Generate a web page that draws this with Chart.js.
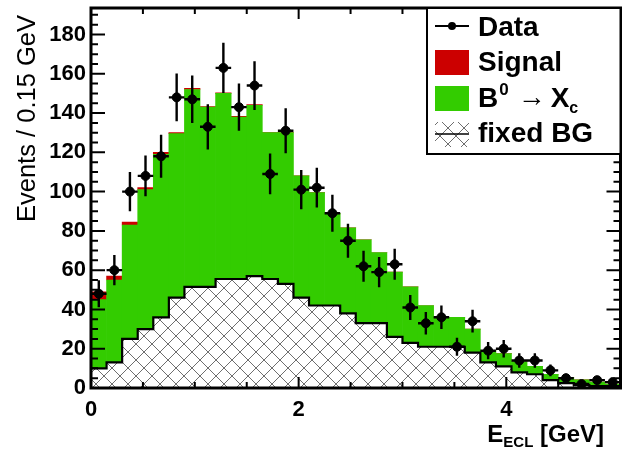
<!DOCTYPE html>
<html>
<head>
<meta charset="UTF-8">
<title>E_ECL</title>
<script src="https://cdn.jsdelivr.net/npm/chart.js"></script>
<style>
    html, body { margin: 0; padding: 0; background: #fff; }
    canvas { display: block; }
</style>
</head>
<body>
<canvas id="grafico" width="626" height="449"></canvas>
<script>
    // bins of 0.15 GeV, centres
    var binCenters = [0.075, 0.225, 0.375, 0.525, 0.675, 0.825, 0.975, 1.125, 1.275, 1.425, 1.575, 1.725,
        1.875, 2.025, 2.175, 2.325, 2.475, 2.625, 2.775, 2.925, 3.075, 3.225, 3.375, 3.525,
        3.675, 3.825, 3.975, 4.125, 4.275, 4.425, 4.575, 4.725, 4.875, 5.025];

    var fixedBG = [10, 13, 25, 30, 36, 46, 51.5, 51.5, 55.5, 55.5, 57, 55.5, 53, 46, 42, 42, 38, 33, 33, 26,
        23, 21, 21, 21, 18, 13, 11, 8, 7, 4, 2.5, 1.5, 1, 1];
    var xcBG = [35, 42, 58, 71, 83, 83.5, 100.5, 91.5, 94.5, 82.5, 87, 74.5, 77, 62, 57.5, 47, 43.5, 42.5, 36, 33,
        28.5, 21, 15, 15, 12, 6, 6.5, 5.5, 4, 3, 2.8, 2.7, 2, 1];
    var signal = [4, 2, 1.5, 1, 1, 0.6, 0.6, 0.3, 0.3, 0.3, 0.3, 0, 0, 0, 0, 0, 0, 0, 0, 0,
        0, 0, 0, 0, 0, 0, 0, 0, 0, 0, 0, 0, 0, 0];

    var dataY = [48, 60, 100, 108, 118, 148, 147, 133, 163, 143, 154, 109, 131, 101, 102, 89, 75, 62, 59, 63,
        41, 33, 36, 21, 34, 19, 20, 14, 14, 9, 5, 2, 4, 3];
    var dataErr = [6.9, 7.7, 10, 10.4, 10.9, 12.2, 12.1, 11.5, 12.8, 12, 12.4, 10.4, 11.4, 10, 10.1, 9.4, 8.7, 7.9, 7.7, 7.9,
        6.4, 5.7, 6, 4.6, 5.8, 4.4, 4.5, 3.7, 3.7, 3, 2.2, 1.4, 2, 1.7];

    var yTicks = [0, 20, 40, 60, 80, 100, 120, 140, 160, 180];
    var xTicks = [0, 2, 4];
    var halfBin = 0.075;

    var fonte = '"Liberation Sans", Arial, Helvetica, sans-serif';
    var verde = '#33cc00';
    var vermelho = '#cc0000';

    // cross hatch for the fixed background
    var tile = document.createElement('canvas');
    tile.width = 16;
    tile.height = 16;
    var tg = tile.getContext('2d');
    tg.strokeStyle = '#6e6e6e';
    tg.lineWidth = 1;
    tg.beginPath();
    tg.moveTo(-2, -2); tg.lineTo(18, 18);
    tg.moveTo(-2, 18); tg.lineTo(18, -2);
    tg.stroke();
    var hatch = tg.createPattern(tile, 'repeat');

    var histPlugin = {
        id: 'histo',
        beforeDatasetDraw: function (chart, args) {
            if (args.index !== 3) return;
            var ctx = chart.ctx;
            var barras = chart.getDatasetMeta(0).data;
            // outline of fixed BG
            ctx.save();
            ctx.strokeStyle = '#000';
            ctx.lineWidth = 2.2;
            ctx.lineJoin = 'miter';
            ctx.beginPath();
            barras.forEach(function (b, i) {
                var p = b.getProps(['x', 'y', 'width'], true);
                var l = p.x - p.width / 2, r = p.x + p.width / 2;
                if (i === 0) ctx.moveTo(l, p.y); else ctx.lineTo(l, p.y);
                ctx.lineTo(r, p.y);
            });
            ctx.stroke();

            // error bars
            var xs = chart.scales.x, ys = chart.scales.yd;
            ctx.lineWidth = 2.4;
            ctx.beginPath();
            for (var i = 0; i < dataY.length; i++) {
                var cx = xs.getPixelForValue(binCenters[i]);
                var cy = ys.getPixelForValue(dataY[i]);
                ctx.moveTo(cx, ys.getPixelForValue(dataY[i] - dataErr[i]));
                ctx.lineTo(cx, ys.getPixelForValue(dataY[i] + dataErr[i]));
                ctx.moveTo(xs.getPixelForValue(binCenters[i] - halfBin), cy);
                ctx.lineTo(xs.getPixelForValue(binCenters[i] + halfBin), cy);
            }
            ctx.stroke();
            ctx.restore();
        },
        afterDraw: function (chart) {
            var ctx = chart.ctx;
            var a = chart.chartArea;
            var xs = chart.scales.x, ys = chart.scales.y;
            ctx.save();
            ctx.strokeStyle = '#000';
            ctx.fillStyle = '#000';

            // ticks
            ctx.lineWidth = 2;
            ctx.beginPath();
            for (var v = 0; v <= 190; v += 5) {
                var py = ys.getPixelForValue(v);
                var len = (v % 20 === 0) ? 14 : 7;
                ctx.moveTo(a.left, py); ctx.lineTo(a.left + len, py);
                ctx.moveTo(a.right, py); ctx.lineTo(a.right - len, py);
            }
            for (var k = 0; k <= 10; k++) {
                var xv = k * 0.5;
                var px = xs.getPixelForValue(xv);
                var l2 = (k % 4 === 0) ? 11 : 6;
                ctx.moveTo(px, a.bottom); ctx.lineTo(px, a.bottom - l2);
                ctx.moveTo(px, a.top); ctx.lineTo(px, a.top + l2);
            }
            ctx.stroke();

            // frame
            ctx.lineWidth = 3;
            ctx.strokeRect(a.left, a.top, a.right - a.left, a.bottom - a.top);

            // tick labels
            ctx.font = 'bold 22px ' + fonte;
            ctx.textAlign = 'right';
            ctx.textBaseline = 'middle';
            yTicks.forEach(function (t) {
                ctx.fillText(String(t), 86, ys.getPixelForValue(t));
            });
            ctx.textAlign = 'center';
            ctx.textBaseline = 'alphabetic';
            xTicks.forEach(function (t) {
                ctx.fillText(String(t), xs.getPixelForValue(t), 416);
            });

            // y title
            ctx.save();
            ctx.translate(35, 222);
            ctx.rotate(-Math.PI / 2);
            ctx.textAlign = 'left';
            ctx.font = '25.5px ' + fonte;
            ctx.fillText('Events / 0.15 GeV', 0, 0);
            ctx.restore();

            // x title E_ECL [GeV]
            ctx.textAlign = 'left';
            var big = 'bold 24px ' + fonte, small = 'bold 15px ' + fonte;
            ctx.font = big; var w1 = ctx.measureText('E').width;
            var w3 = ctx.measureText(' [GeV]').width;
            ctx.font = small; var w2 = ctx.measureText('ECL').width;
            var x0 = 604 - (w1 + w2 + w3);
            ctx.font = big; ctx.fillText('E', x0, 442);
            ctx.font = small; ctx.fillText('ECL', x0 + w1, 447);
            ctx.font = big; ctx.fillText(' [GeV]', x0 + w1 + w2, 442);

            // legend
            var lx = 427, ly = a.top, lw = a.right - 427, lh = 154 - a.top;
            ctx.fillStyle = '#fff';
            ctx.fillRect(lx, ly, lw, lh);
            ctx.lineWidth = 2;
            ctx.strokeRect(lx, ly, lw, lh);

            ctx.lineWidth = 2;
            ctx.beginPath();
            ctx.moveTo(435, 26); ctx.lineTo(469, 26);
            ctx.stroke();
            ctx.fillStyle = '#000';
            ctx.beginPath();
            ctx.arc(452, 26, 4, 0, Math.PI * 2);
            ctx.fill();

            ctx.fillStyle = vermelho;
            ctx.fillRect(435, 50, 34, 25);
            ctx.fillStyle = verde;
            ctx.fillRect(435, 86, 34, 25);
            ctx.fillStyle = hatch;
            ctx.fillRect(435, 122, 34, 25);
            ctx.lineWidth = 1.5;
            ctx.beginPath();
            ctx.moveTo(435, 134); ctx.lineTo(469, 134);
            ctx.stroke();

            ctx.fillStyle = '#000';
            ctx.font = 'bold 28px ' + fonte;
            ctx.fillText('Data', 478, 36);
            ctx.fillText('Signal', 478, 71);
            ctx.fillText('fixed BG', 478, 142);
            var bx = 478;
            ctx.fillText('B', bx, 107);
            bx += ctx.measureText('B').width;
            ctx.font = 'bold 17px ' + fonte;
            ctx.fillText('0', bx + 1, 95);
            bx += ctx.measureText('0').width + 10;
            ctx.font = '28px ' + fonte;
            ctx.fillText('\u2192', bx, 106);
            bx += ctx.measureText('\u2192').width + 5;
            ctx.font = 'bold 28px ' + fonte;
            ctx.fillText('X', bx, 107);
            bx += ctx.measureText('X').width;
            ctx.font = 'bold 16px ' + fonte;
            ctx.fillText('c', bx, 113);

            ctx.restore();
        }
    };

    var grafico = new Chart(document.getElementById('grafico'), {
        type: 'bar',
        data: {
            labels: binCenters,
            datasets: [
                { label: 'fixed BG', data: fixedBG, backgroundColor: hatch, borderWidth: 0, order: 1 },
                { label: 'B0 -> Xc', data: xcBG, backgroundColor: verde, borderWidth: 0, order: 1 },
                { label: 'Signal', data: signal, backgroundColor: vermelho, borderWidth: 0, order: 1 },
                {
                    type: 'scatter', label: 'Data', data: dataY, yAxisID: 'yd', order: 0,
                    pointRadius: 4.5, pointBackgroundColor: '#000', pointBorderColor: '#000',
                    showLine: false
                }
            ]
        },
        options: {
            responsive: false,
            animation: false,
            devicePixelRatio: 1,
            layout: { padding: { left: 91, right: 3, top: 8, bottom: 61 } },
            datasets: { bar: { barPercentage: 1, categoryPercentage: 1 } },
            scales: {
                x: { type: 'linear', min: 0, max: 5.1, offset: false, stacked: true, display: false },
                y: { type: 'linear', min: 0, max: 193.5, stacked: true, display: false },
                yd: { type: 'linear', min: 0, max: 193.5, display: false }
            },
            plugins: {
                legend: { display: false },
                tooltip: { enabled: false }
            }
        },
        plugins: [histPlugin]
    });
</script>
</body>
</html>
